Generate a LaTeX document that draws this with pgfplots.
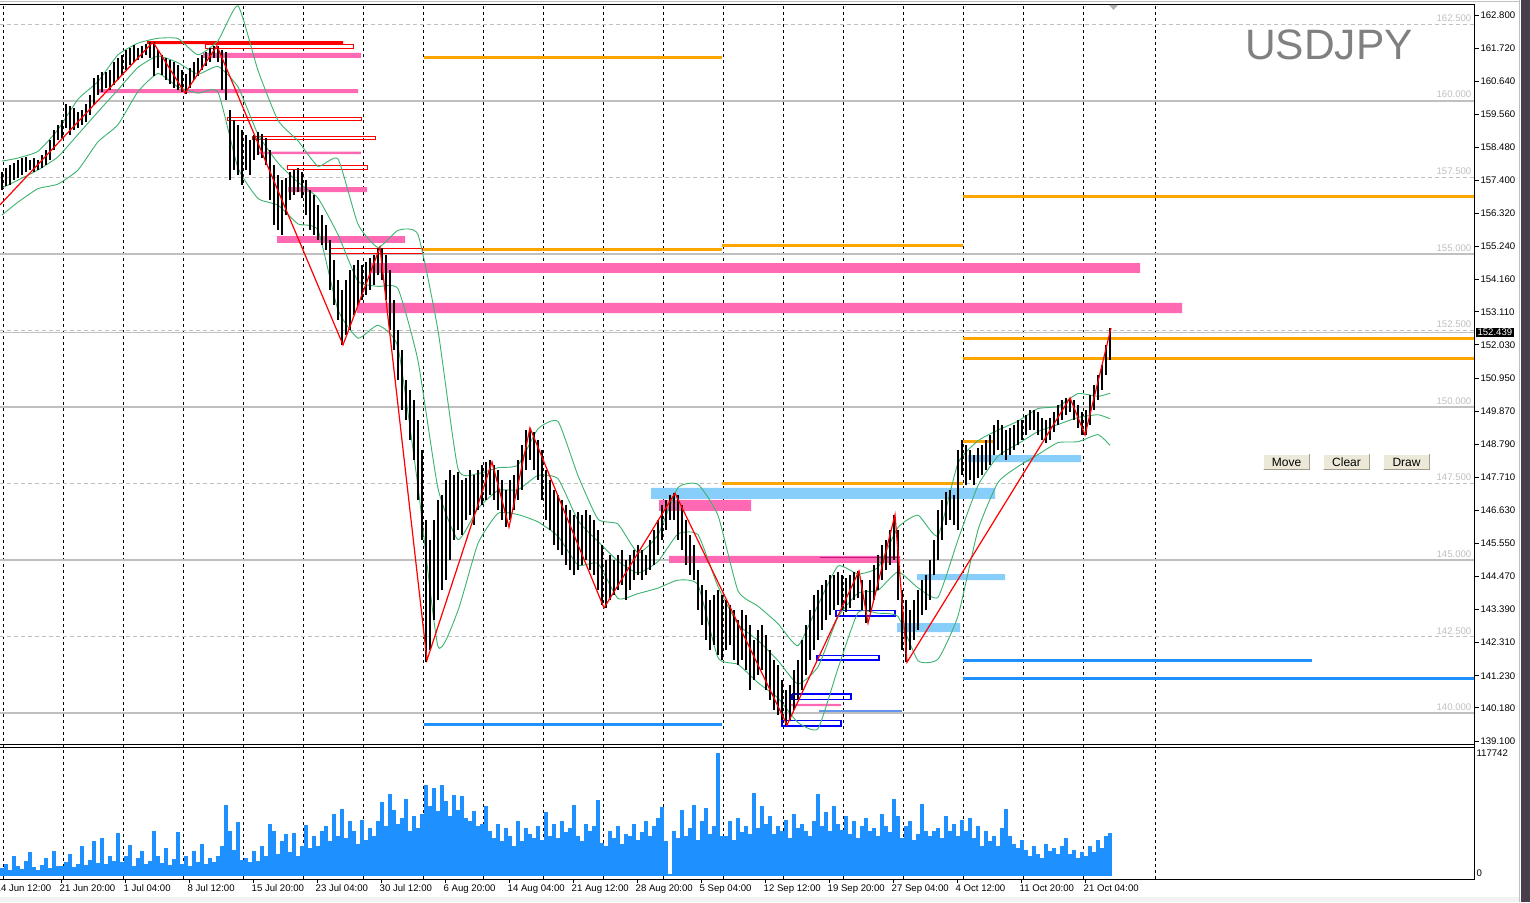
\documentclass[border=0pt]{standalone}
\usepackage{pgfplots}
\pgfplotsset{compat=1.18}
\usepackage{pgfplotstable}
\usepackage{fontspec}
\setmainfont{Liberation Sans}
\definecolor{pinkc}{RGB}{255,105,180}
\definecolor{lblue}{RGB}{135,206,250}
\definecolor{orng}{RGB}{255,165,0}
\definecolor{dblue}{RGB}{30,144,255}
\definecolor{cblue}{RGB}{100,149,237}
\definecolor{bbgreen}{RGB}{60,179,113}
\definecolor{lvlgray}{RGB}{192,192,192}
\definecolor{btnface}{RGB}{236,233,216}
\definecolor{btndark}{RGB}{160,156,140}
\definecolor{strip}{RGB}{70,62,75}
\definecolor{darkpink}{RGB}{199,21,133}
\definecolor{titlegray}{RGB}{128,128,128}
\pgfdeclarelayer{background}
\pgfsetlayers{background,main}
\newcommand{\tk}{\fontsize{9.6bp}{11bp}\selectfont}
\newcommand{\rbox}[5]{\addplot[forget plot,#5] coordinates {(#1,#3) (#2,#3) (#2,#4) (#1,#4) (#1,#3)};}
\newcommand{\lvl}[4]{\addplot[forget plot,#4] coordinates {(#1,#3) (#2,#3)};}
\pgfplotstableread{
x h l v
2 157.67 157.09 7700
6 157.80 157.22 11500
10 157.90 157.25 5800
14 157.97 157.41 19200
18 158.07 157.48 9600
22 158.13 157.58 6700
26 158.16 157.67 14400
30 158.07 157.74 23000
34 158.13 157.67 8600
38 158.07 157.74 5800
42 158.23 157.80 10600
46 158.39 157.90 17300
50 158.72 158.07 7700
54 159.05 158.39 24000
58 159.21 158.72 9600
62 159.37 158.78 9600
66 159.89 159.11 13400
70 159.83 158.88 21100
74 159.76 159.05 8600
78 159.63 159.11 11500
82 159.70 159.21 28800
86 159.89 159.31 10600
90 160.19 159.54 15400
94 160.74 159.86 33600
98 160.84 160.19 12500
102 160.94 160.29 36500
106 160.94 160.42 11500
110 161.00 160.35 19200
114 161.27 160.51 14400
118 161.40 160.68 41300
122 161.49 160.84 13400
126 161.66 161.00 19200
130 161.72 161.17 29800
134 161.82 161.27 9600
138 161.72 161.33 17300
142 161.79 161.40 24000
146 161.85 161.49 11500
150 161.92 161.40 14400
154 161.92 160.81 43200
158 161.66 161.07 19200
162 161.49 160.84 12500
166 161.40 160.68 26900
170 161.33 160.55 10600
174 161.27 160.42 16300
178 161.17 160.35 42200
182 161.00 160.29 11500
186 160.87 160.22 19200
190 161.07 160.42 9600
194 161.27 160.68 24000
198 161.40 160.81 13400
202 161.49 161.00 30700
206 161.59 161.14 11500
210 161.72 161.27 17300
214 161.79 161.40 13400
218 161.79 161.27 19200
222 161.66 160.35 28800
226 161.59 160.03 68200
230 159.70 157.41 43200
234 159.37 157.74 25000
238 159.21 157.58 51800
242 159.05 157.25 15400
246 158.88 157.74 17300
250 158.72 157.58 13400
254 158.88 158.07 24000
258 158.98 158.23 14400
262 158.92 158.13 28800
266 158.78 157.90 19200
270 158.39 156.76 49900
274 157.90 155.94 43200
278 157.58 155.78 21100
282 157.41 155.62 33600
286 157.48 156.27 40300
290 157.67 156.76 23000
294 157.74 156.92 41300
298 157.80 157.02 19200
302 157.67 156.84 28800
306 157.41 156.27 49000
310 157.09 155.78 26900
314 156.92 155.62 38400
318 156.60 155.45 28800
322 156.27 155.29 43200
326 155.94 155.13 48000
330 155.45 153.82 33600
334 154.80 153.33 59500
338 154.15 152.84 38400
342 153.82 152.03 64300
346 154.15 152.35 36500
350 154.47 152.52 52800
354 154.64 153.01 43200
358 154.80 153.33 30700
362 154.64 153.50 53800
366 154.74 153.66 34600
370 154.87 153.82 46100
374 154.96 153.99 38400
378 155.19 154.31 52800
382 155.19 154.15 71000
386 154.96 153.50 48000
390 154.47 152.52 78700
394 153.50 151.86 63400
398 152.52 150.88 49900
402 151.86 149.90 55700
406 150.88 149.58 73900
410 150.56 148.92 43200
414 150.23 148.27 57600
418 149.58 146.97 46100
422 148.60 145.66 59500
426 146.31 141.68 87400
430 145.66 142.07 67200
434 146.31 143.05 84500
438 146.97 143.70 62400
442 147.13 144.03 87400
446 147.62 144.35 72000
450 147.95 145.01 57600
454 147.78 145.66 77800
458 147.88 145.99 63400
462 147.62 145.82 76800
466 147.68 146.31 55700
470 147.95 146.48 52800
474 147.78 146.15 62400
478 147.95 146.64 48000
482 148.11 146.80 49900
486 148.21 146.97 67200
490 148.27 147.13 43200
494 148.11 146.97 36500
498 147.95 146.64 49900
502 147.62 146.31 33600
506 147.29 146.08 46100
510 147.62 146.31 38400
514 147.78 146.64 28800
518 148.27 146.97 52800
522 148.76 147.29 33600
526 149.25 147.95 46100
530 149.32 148.27 40300
534 149.19 147.95 36500
538 148.92 147.62 48000
542 148.60 146.97 34600
546 147.95 146.31 61400
550 147.62 145.99 38400
554 147.29 145.50 49900
558 147.13 145.33 36500
562 146.97 145.17 52800
566 146.80 144.84 42200
570 146.64 144.68 46100
574 146.48 144.52 68200
578 146.57 144.68 38400
582 146.48 144.84 33600
586 146.64 145.01 49900
590 146.48 144.68 43200
594 146.31 144.52 48000
598 145.99 144.03 73000
602 145.50 143.54 31700
606 145.01 143.44 28800
610 145.17 143.70 43200
614 145.01 143.86 36500
618 145.17 144.03 48000
622 145.33 144.19 30700
626 145.01 143.70 40300
630 145.17 144.03 38400
634 145.33 144.35 49900
638 145.50 144.52 34600
642 145.33 144.35 42200
646 145.17 144.52 52800
650 145.66 144.68 38400
654 145.99 144.84 48000
658 146.31 145.17 55700
662 146.80 145.66 66200
666 146.97 145.99 33600
670 147.13 146.31 1900
674 147.19 146.31 43200
678 147.13 145.66 36500
682 146.80 145.33 63400
686 146.31 144.84 38400
690 145.82 144.52 46100
694 145.50 144.35 68200
698 144.68 143.37 34600
702 144.19 142.88 52800
706 144.03 142.39 65300
710 143.70 142.07 40300
714 143.86 142.23 48000
718 144.03 141.90 117742
722 143.86 141.74 38400
726 143.70 142.07 38400
730 143.54 142.23 52800
734 143.37 141.74 34600
738 143.05 141.58 55700
742 143.37 141.74 42200
746 143.21 141.42 48000
750 142.88 140.76 40300
754 142.39 141.09 79700
758 142.72 141.25 46100
762 142.88 141.42 67200
766 142.56 140.76 49900
770 142.07 140.44 57600
774 141.74 140.11 40300
778 141.58 139.95 48000
782 141.09 139.78 43200
786 140.76 139.62 53800
790 140.93 139.78 36500
794 141.42 140.11 59500
798 141.74 140.44 46100
802 142.39 140.76 49900
806 142.88 141.25 43200
810 143.37 141.74 38400
814 143.86 142.07 52800
818 144.03 142.39 78700
822 144.19 142.72 48000
826 144.35 143.05 61400
830 144.52 143.21 43200
834 144.52 143.37 67200
838 144.61 143.54 49900
842 144.52 143.37 44200
846 144.42 143.31 57600
850 144.52 143.44 40300
854 144.61 143.70 52800
858 144.65 143.76 36500
862 144.35 143.37 48000
866 144.03 142.95 55700
870 144.35 143.31 43200
874 144.84 143.70 46100
878 145.17 144.03 38400
882 145.50 144.35 59500
886 145.66 144.68 48000
890 145.99 144.84 42200
894 146.48 145.01 73900
898 145.99 143.70 57600
902 144.03 142.07 36500
906 143.70 141.67 48000
910 143.37 142.07 52800
914 143.70 142.39 34600
918 144.03 142.72 40300
922 144.35 143.21 69100
926 144.52 143.37 43200
930 145.01 143.70 38400
934 145.66 144.52 43200
938 146.64 145.01 46100
942 146.97 145.66 36500
946 147.23 146.15 57600
950 147.29 146.31 43200
954 147.13 146.15 49900
958 148.60 145.99 38400
962 148.92 147.78 53800
966 148.76 147.46 43200
970 148.60 147.62 55700
974 148.43 147.46 36500
978 148.66 147.68 48000
982 148.76 147.78 28800
986 148.92 147.95 43200
990 149.09 148.11 33600
994 149.41 148.43 38400
998 149.58 148.60 28800
1002 149.41 148.43 46100
1006 149.25 148.27 64300
1010 149.32 148.43 38400
1014 149.41 148.60 30700
1018 149.58 148.76 26900
1022 149.58 148.92 34600
1026 149.74 149.09 25000
1030 149.90 149.25 19200
1034 149.90 149.25 28800
1038 149.84 149.09 21100
1042 149.64 148.92 17300
1046 149.58 148.82 30700
1050 149.64 148.92 24000
1054 149.84 149.19 26900
1058 150.07 149.41 21100
1062 150.23 149.58 28800
1066 150.30 149.74 36500
1070 150.30 149.84 21100
1074 150.23 149.58 25000
1078 150.07 149.32 17300
1082 149.84 149.09 23000
1086 149.90 149.09 19200
1090 150.39 149.41 28800
1094 150.72 149.90 23000
1098 151.05 150.23 34600
1102 151.37 150.56 26900
1106 152.03 151.05 38400
1110 152.58 151.54 41300
}\bars
\pgfplotstableread{
x u m l
2 158.03 157.15 156.27
18 158.13 157.41 156.69
38 158.35 157.74 157.13
58 159.06 158.17 157.28
78 160.05 158.90 157.74
98 160.63 159.64 158.66
118 161.50 160.36 159.22
138 161.88 161.09 160.30
158 162.04 161.46 160.89
178 162.03 161.24 160.45
198 161.50 160.87 160.25
218 161.96 161.12 160.28
238 163.10 160.45 157.81
258 160.99 158.90 156.81
278 159.36 157.97 156.59
298 158.69 157.34 155.98
318 157.86 156.82 155.77
338 158.10 155.63 153.17
358 155.97 154.11 152.25
378 155.21 153.94 152.67
398 155.77 153.86 151.95
418 155.63 151.51 147.40
438 152.50 147.34 142.18
458 147.98 145.67 143.36
478 147.83 146.69 145.55
498 148.02 147.28 146.53
518 148.11 147.30 146.49
538 149.29 147.77 146.25
558 149.53 147.66 145.78
578 147.76 146.30 144.84
598 146.34 145.61 144.89
618 146.18 144.97 143.75
638 145.24 144.58 143.91
658 145.83 144.96 144.09
678 147.37 145.86 144.35
698 147.48 145.83 144.19
718 146.46 144.14 141.82
738 144.00 142.91 141.60
758 143.50 142.38 141.00
778 142.93 141.72 140.50
798 142.21 140.96 139.70
818 143.54 141.52 139.50
838 144.81 143.14 141.47
858 144.55 143.92 143.29
878 144.77 144.02 143.27
898 146.07 144.62 143.16
918 146.47 144.10 141.72
938 145.80 143.79 141.77
958 148.17 145.67 143.18
978 148.90 147.44 145.99
998 149.25 148.40 147.54
1018 149.54 148.80 148.06
1038 149.95 149.20 148.45
1058 150.02 149.43 148.84
1078 150.44 149.66 148.87
1098 150.35 149.75 149.10
1110 150.45 149.62 148.75
}\bb
\begin{document}
\begin{tikzpicture}[x=1bp,y=1bp]
\begin{axis}[
  width=1474.5bp, height=874bp, scale only axis,
  xmin=0, xmax=1474.5, ymin=134.592, ymax=163.126,
  axis line style={draw=none}, clip=false,
  xtick={61,125,189,253,317,381,445,509,573,637,701,765,829,893,957,1021,1085},
  xticklabels={21 Jun 20:00,1 Jul 04:00,8 Jul 12:00,15 Jul 20:00,23 Jul 04:00,30 Jul 12:00,6 Aug 20:00,14 Aug 04:00,21 Aug 12:00,28 Aug 20:00,5 Sep 04:00,12 Sep 12:00,19 Sep 20:00,27 Sep 04:00,4 Oct 12:00,11 Oct 20:00,21 Oct 04:00},
  xtick pos=left, tick align=outside, major tick length=4bp,
  xtick style={black, line width=0.8bp},
  xticklabel style={anchor=north west, inner sep=1bp, xshift=-2.5bp, yshift=-0.5bp},
  extra x ticks={3,63,123,183,243,303,363,423,483,543,603,663,723,783,843,903,963,1023,1083,1155},
  extra x tick labels={},
  extra x tick style={grid=major, major tick length=0pt},
  major grid style={black, line width=0.9bp, dash pattern=on 3bp off 3bp},
  ytick={162.8,161.72,160.64,159.56,158.48,157.4,156.32,155.24,154.16,153.11,152.03,150.95,149.87,148.79,147.71,146.63,145.55,144.47,143.39,142.31,141.23,140.18,139.1},
  yticklabels={162.800,161.720,160.640,159.560,158.480,157.400,156.320,155.240,154.160,153.110,152.030,150.950,149.870,148.790,147.710,146.630,145.550,144.470,143.390,142.310,141.230,140.180,139.100},
  yticklabel pos=right, ytick pos=right,
  ytick style={black, line width=0.8bp},
  yticklabel style={xshift=-1.5bp},
  extra y ticks={134.788,138.694}, extra y tick labels={0,117742},
  extra y tick style={major tick length=0pt},
  ticklabel style={font=\tk, text=black},
]
\coordinate (O) at (axis cs:0,163.2897);
% price levels
\lvl{0}{1474.5}{162.5}{lvlgray, line width=1bp, dash pattern=on 4bp off 3bp}
\lvl{0}{1474.5}{157.5}{lvlgray, line width=1bp, dash pattern=on 4bp off 3bp}
\lvl{0}{1474.5}{152.5}{lvlgray, line width=1bp, dash pattern=on 4bp off 3bp}
\lvl{0}{1474.5}{147.5}{lvlgray, line width=1bp, dash pattern=on 4bp off 3bp}
\lvl{0}{1474.5}{142.5}{lvlgray, line width=1bp, dash pattern=on 4bp off 3bp}
\lvl{0}{1474.5}{160}{lvlgray, line width=2.2bp}
\lvl{0}{1474.5}{155}{lvlgray, line width=2.2bp}
\lvl{0}{1474.5}{150}{lvlgray, line width=2.2bp}
\lvl{0}{1474.5}{145}{lvlgray, line width=2.2bp}
\lvl{0}{1474.5}{140}{lvlgray, line width=2.2bp}
\lvl{0}{1474.5}{152.439}{lvlgray, line width=1bp}
% objects
\rbox{147}{343}{161.95}{161.85}{fill=red, draw=none}
\rbox{205}{353}{161.84}{161.71}{draw=red, line width=1bp}
\rbox{203}{361}{161.56}{161.40}{fill=pinkc, draw=none}
\rbox{97}{358}{160.38}{160.25}{fill=pinkc, draw=none}
\rbox{227}{361}{159.44}{159.34}{draw=red, line width=1bp}
\rbox{252}{375}{158.82}{158.72}{draw=red, line width=1bp}
\rbox{257}{361}{158.34}{158.26}{fill=pinkc, draw=none}
\rbox{287}{367}{157.87}{157.77}{draw=red, line width=1bp}
\rbox{288}{367}{157.18}{157.02}{fill=pinkc, draw=none}
\rbox{277}{405}{155.58}{155.36}{fill=pinkc, draw=none}
\rbox{329}{422}{155.19}{155.00}{draw=red, line width=1bp}
\rbox{370}{1140}{154.70}{154.38}{fill=pinkc, draw=none}
\rbox{357}{1182}{153.40}{153.07}{fill=pinkc, draw=none}
\lvl{423}{722}{155.14}{orng, line width=3bp}
\lvl{722}{963}{155.27}{orng, line width=3bp}
\lvl{424}{722}{161.40}{orng, line width=3bp}
\lvl{963}{1474.5}{156.89}{orng, line width=3bp}
\lvl{963}{1474.5}{152.24}{orng, line width=3bp}
\lvl{963}{1474.5}{151.57}{orng, line width=3bp}
\lvl{963}{993}{148.89}{orng, line width=3bp}
\lvl{722}{963}{147.49}{orng, line width=3bp}
\rbox{968}{1081}{148.43}{148.20}{fill=lblue, draw=none}
\rbox{651}{995}{147.36}{147.00}{fill=lblue, draw=none}
\rbox{659}{751}{146.97}{146.61}{fill=pinkc, draw=none}
\rbox{669}{900}{145.14}{144.91}{fill=pinkc, draw=none}
\lvl{820}{900}{145.10}{darkpink, line width=0.8bp}
\rbox{917}{1005}{144.55}{144.35}{fill=lblue, draw=none}
\rbox{897}{960}{142.95}{142.65}{fill=lblue, draw=none}
\rbox{836}{895}{143.37}{143.18}{draw=blue, line width=1.2bp}
\rbox{817}{879}{141.90}{141.74}{draw=blue, line width=1.2bp}
\rbox{792}{851}{140.63}{140.44}{draw=blue, line width=1.2bp}
\rbox{790}{841}{140.31}{140.24}{fill=pinkc, draw=none}
\lvl{819}{902}{140.08}{cblue, line width=2bp}
\rbox{782}{841}{139.78}{139.59}{draw=blue, line width=1.2bp}
\lvl{424}{722}{139.65}{dblue, line width=3bp}
\lvl{963}{1312}{141.71}{dblue, line width=3bp}
\lvl{963}{1474.5}{141.15}{dblue, line width=3bp}
% Bollinger bands
\addplot[forget plot, bbgreen, line width=0.9bp, smooth, tension=0.3] table[x=x,y=u] {\bb};
\addplot[forget plot, bbgreen, line width=0.9bp, smooth, tension=0.3] table[x=x,y=m] {\bb};
\addplot[forget plot, bbgreen, line width=0.9bp, smooth, tension=0.3] table[x=x,y=l] {\bb};
% price bars (high-low)
\addplot[forget plot, draw=none, mark=none, error bars/.cd, y dir=both, y explicit, error mark=none,
  error bar style={draw=black, solid, line width=1.2bp}]
  table[x=x, y expr={(\thisrow{h}+\thisrow{l})/2}, y error expr={(\thisrow{h}-\thisrow{l})/2}] {\bars};
% zigzag
\addplot[forget plot, red, line width=1.2bp] coordinates {
(0,156.60) (153,161.92) (185,160.25) (217,161.79) (343,152.03) (380,155.22) (427,141.74)
(492,148.21) (509,146.08) (530,149.32) (604,143.44) (675,147.19) (787,139.62) (859,144.65)
(868,142.95) (895,146.48) (907,141.67) (1070,150.30) (1085,149.09) (1111,152.58)};
% volume histogram (lower panel: 0 at 134.690, 29405 ticks per price unit)
\addplot[forget plot, draw=none, mark=none, error bars/.cd, y dir=both, y explicit, error mark=none,
  error bar style={draw=dblue, solid, line width=4.05bp}]
  table[x=x, y expr={134.690+\thisrow{v}/58810}, y error expr={\thisrow{v}/58810}] {\bars};
% level labels
\tikzset{lvllab/.style={anchor=south east, inner sep=0.5bp, yshift=2bp, text=lvlgray, font=\tk}}
\node[lvllab] at (axis cs:1472,162.5) {162.500};
\node[lvllab] at (axis cs:1472,160) {160.000};
\node[lvllab] at (axis cs:1472,157.5) {157.500};
\node[lvllab] at (axis cs:1472,155) {155.000};
\node[lvllab] at (axis cs:1472,152.5) {152.500};
\node[lvllab] at (axis cs:1472,150) {150.000};
\node[lvllab] at (axis cs:1472,147.5) {147.500};
\node[lvllab] at (axis cs:1472,145) {145.000};
\node[lvllab] at (axis cs:1472,142.5) {142.500};
\node[lvllab] at (axis cs:1472,140) {140.000};
\node[anchor=west, fill=black, text=white, inner sep=1.3bp, font=\tk] at (axis cs:1476,152.439) {152.439};
\end{axis}
% ---------------- frames and decorations (image top-left = O) ----------------
\begin{scope}[shift={(O)}]
\draw[lvlgray, line width=1bp] (0,-1.5) -- (1519,-1.5);
\draw[black, line width=1bp] (0,-5) -- (1474.5,-5);
\draw[black, line width=1bp] (1474.5,-5) -- (1474.5,-879);
\draw[black, line width=1bp] (0,-744.5) -- (1474.5,-744.5);
\draw[black, line width=1bp] (0,-747.5) -- (1474.5,-747.5);
\draw[black, line width=1bp] (0,-879) -- (1474.5,-879);
\node[anchor=north west, inner sep=1bp, font=\tk] at (-5.5,-883.5) {14 Jun 12:00};
\fill[gray!10] (0,-897) rectangle (1520,-902);
\fill[strip] (1521,0) rectangle (1530,-902);
\draw[lvlgray, line width=1.2bp] (1519.8,0) -- (1519.8,-902);
\fill[gray!60] (1109,-5) -- (1118,-5) -- (1113.5,-10) -- cycle;
\node[anchor=base west, inner sep=0, text=titlegray, font=\fontsize{42.5bp}{44bp}\selectfont] at (1245,-60) {USDJPY};
\foreach \a/\b/\t in {1263/1310/Move, 1323/1370/Clear, 1383/1430/Draw}{
  \fill[btnface] (\a,-454) rectangle (\b,-470);
  \draw[white, line width=1bp] (\a+0.5,-469.5) -- (\a+0.5,-454.5) -- (\b-0.5,-454.5);
  \draw[btndark, line width=1.2bp] (\a+0.5,-469.5) -- (\b-0.5,-469.5) -- (\b-0.5,-454.5);
  \node[inner sep=0, font=\fontsize{12bp}{14bp}\selectfont] at ({(\a+\b)/2},-462) {\t};
}
\end{scope}
\begin{pgfonlayer}{background}
\fill[white] (O) rectangle ++(1530,-902);
\end{pgfonlayer}
\pgfresetboundingbox
\path[use as bounding box] (O) rectangle ++(1530,-902);
\end{tikzpicture}
\end{document}
